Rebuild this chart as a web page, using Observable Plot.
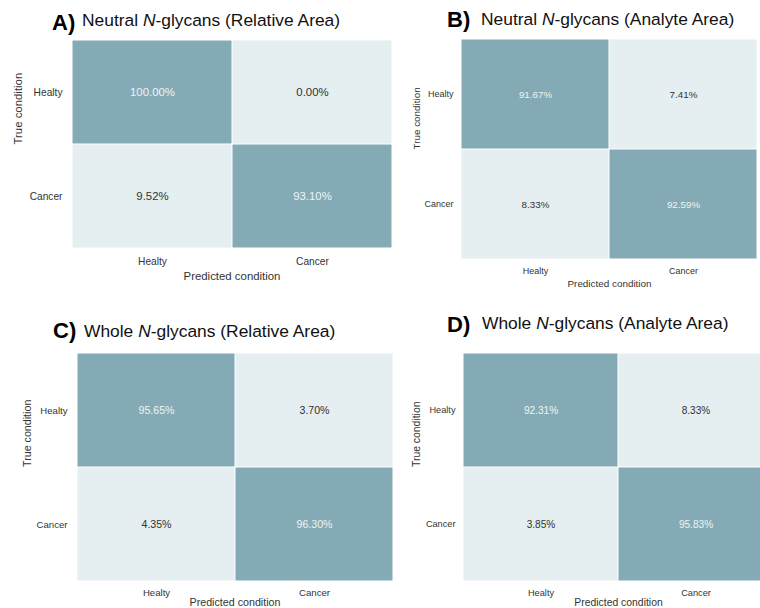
<!DOCTYPE html>
<html><head><meta charset="utf-8">
<script src="https://cdn.jsdelivr.net/npm/d3@7"></script>
<script src="https://cdn.jsdelivr.net/npm/@observablehq/plot@0.6"></script>
<style>
body{margin:0;background:#fff;font-family:"Liberation Sans",Arial,sans-serif;}
#fig{position:relative;width:760px;height:608px;overflow:hidden;background:#fff;}
.panel{position:absolute;}
.lab{position:absolute;font-weight:bold;font-size:22px;line-height:1;white-space:nowrap;color:#000;}
.ttl{position:absolute;font-size:17.4px;line-height:1;white-space:nowrap;color:#111;}
</style></head><body><div id="fig"></div>
<script>
// ---- data ----
const conditions = ["Healty", "Cancer"];
const panelLetters = ["A)", "B)", "C)", "D)"];
const titleStarts = ["Neutral", "Neutral", "Whole", "Whole"];
const titleEnds = ["(Relative Area)", "(Analyte Area)", "(Relative Area)", "(Analyte Area)"];
// row-major: [true Healty -> pred Healty, pred Cancer, true Cancer -> pred Healty, pred Cancer]
const valuesA = [100.00, 0.00, 9.52, 93.10];
const valuesB = [91.67, 7.41, 8.33, 92.59];
const valuesC = [95.65, 3.70, 4.35, 96.30];
const valuesD = [92.31, 8.33, 3.85, 95.83];
const xLabel = "Predicted condition";
const yLabel = "True condition";

// ---- layout ----
const dark = "#84abb5", light = "#e5eef0";
const layout = [
  {left:0,   top:0,   w:400, h:300, mL:71, mR:8, mT:40, mB:52, tick:10.2, padX:9, padY:9, cell:11.4, lab:11.4, xDy:23, yDx:-53,
   labPos:[52,12], ttlPos:[82,12]},
  {left:380, top:0,   w:380, h:300, mL:81, mR:3, mT:39, mB:41, tick:9,    padX:8, padY:8, cell:9.8,  lab:9.9,  xDy:20, yDx:-45,
   labPos:[447,9], ttlPos:[481,11]},
  {left:0,   top:300, w:400, h:308, mL:76, mR:7, mT:52, mB:27, tick:9.6,  padX:8, padY:9, cell:10.6, lab:10.7, xDy:17, yDx:-49,
   labPos:[53,320], ttlPos:[84,323]},
  {left:380, top:300, w:400, h:308, mL:83, mR:7, mT:52, mB:27, tick:9.2,  padX:8, padY:8, cell:10.1, lab:10.4, xDy:17, yDx:-47,
   labPos:[447,314], ttlPos:[482,315]}
];
const allValues = [valuesA, valuesB, valuesC, valuesD];

const fig = document.getElementById("fig");

allValues.forEach((vals, k) => {
  const c = layout[k];
  const data = [];
  conditions.forEach((t, i) => conditions.forEach((p, j) => data.push({truth: t, pred: p, value: vals[i * 2 + j]})));
  const fmt = d => d.value.toFixed(2) + "%";
  const plot = Plot.plot({
    width: c.w, height: c.h,
    marginLeft: c.mL, marginRight: c.mR, marginTop: c.mT, marginBottom: c.mB,
    style: {fontFamily: "'Liberation Sans', Arial, sans-serif", background: "transparent", color: "#333", maxWidth: "none", overflow: "visible"},
    x: {domain: conditions, padding: 0},
    y: {domain: conditions, padding: 0},
    color: {type: "threshold", domain: [50], range: [light, dark]},
    marks: [
      Plot.cell(data, {x: "pred", y: "truth", fill: "value", inset: 0.5}),
      Plot.text(data.filter(d => d.value >= 50), {x: "pred", y: "truth", text: fmt, fill: "#eef4f6", fontSize: c.cell}),
      Plot.text(data.filter(d => d.value < 50), {x: "pred", y: "truth", text: fmt, fill: "#333", fontSize: c.cell}),
      Plot.axisX({tickSize: 0, tickPadding: c.padX, fontSize: c.tick, label: null}),
      Plot.axisY({tickSize: 0, tickPadding: c.padY, fontSize: c.tick, label: null}),
      Plot.text([xLabel], {text: d => d, frameAnchor: "bottom", lineAnchor: "top", dy: c.xDy, fontSize: c.lab, fill: "#333"}),
      Plot.text([yLabel], {text: d => d, frameAnchor: "left", rotate: -90, dx: c.yDx, fontSize: c.lab, fill: "#333"})
    ]
  });
  const div = document.createElement("div");
  div.className = "panel";
  div.style.left = c.left + "px";
  div.style.top = c.top + "px";
  div.style.width = c.w + "px";
  div.style.height = c.h + "px";
  div.appendChild(plot);
  fig.appendChild(div);

  const lab = document.createElement("div");
  lab.className = "lab";
  lab.style.left = c.labPos[0] + "px";
  lab.style.top = c.labPos[1] + "px";
  lab.textContent = panelLetters[k];
  fig.appendChild(lab);

  const ttl = document.createElement("div");
  ttl.className = "ttl";
  ttl.style.left = c.ttlPos[0] + "px";
  ttl.style.top = c.ttlPos[1] + "px";
  ttl.innerHTML = titleStarts[k] + " <i>N</i>-glycans " + titleEnds[k];
  fig.appendChild(ttl);
});
</script>
</body></html>
